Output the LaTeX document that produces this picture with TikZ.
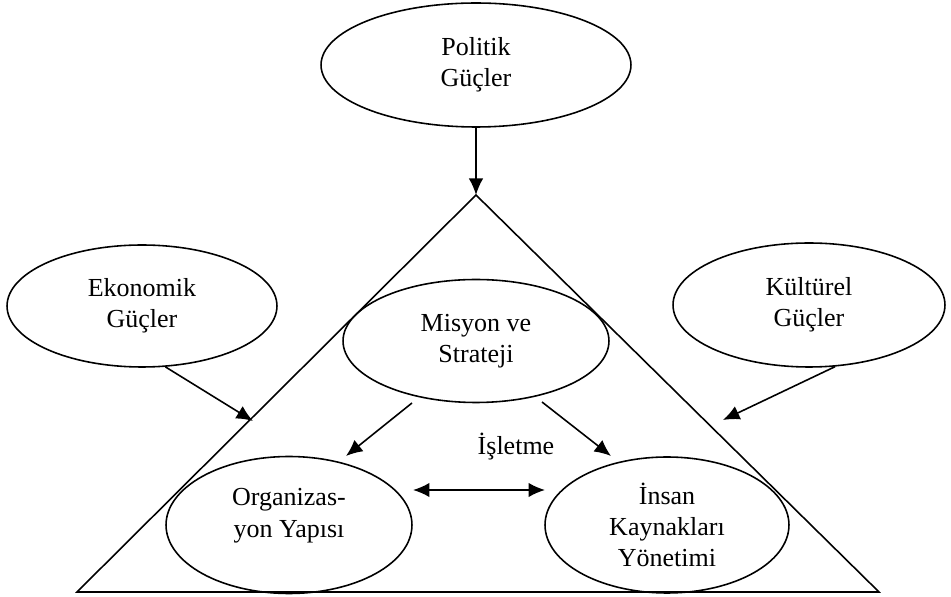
\documentclass[tikz,border=0pt]{standalone}
\usepackage{fontspec}
\setmainfont{Liberation Serif}
\usetikzlibrary{shapes.geometric}
\usetikzlibrary{arrows.meta}
\tikzstyle{force}=[draw, ellipse, line width=0.9pt, inner sep=0pt, align=center, font=\fontsize{14.8}{17.8}\selectfont]
\tikzstyle{plain label}=[inner sep=0pt, font=\fontsize{14.8}{17.8}\selectfont]
\tikzstyle{influence}=[line width=0.9pt, -{Latex[length=3.3mm, width=2.9mm]}]
\tikzstyle{mutual}=[line width=0.9pt, {Latex[length=3.3mm, width=2.9mm]}-{Latex[length=3.3mm, width=2.9mm]}]
\tikzstyle{frame}=[line width=0.9pt, line join=miter]

\begin{document}
\begin{tikzpicture}[x=0.02cm, y=-0.02cm]
  \useasboundingbox (0, 0) rectangle (951, 597);
  % the firm
  \coordinate (apex) at (476, 195);
  \coordinate (base left) at (77, 592);
  \coordinate (base right) at (879, 592);
  \draw[frame] (apex) -- (base left) -- (base right) -- cycle;
  % outside forces
  \node[force, minimum width=6.2cm, minimum height=2.48cm] (politik) at (476, 65) {Politik\\Güçler};
  \node[force, minimum width=5.4cm, minimum height=2.44cm] (ekonomik) at (142, 306) {Ekonomik\\Güçler};
  \node[force, minimum width=5.44cm, minimum height=2.48cm] (kulturel) at (809, 305) {Kültürel\\Güçler};
  % inside the firm
  \node[force, minimum width=5.32cm, minimum height=2.46cm] (misyon) at (476, 341) {Misyon ve\\Strateji};
  \node[force, minimum width=4.92cm, minimum height=2.74cm] (orgyapi) at (289, 525) {Organizas-\\yon Yapısı\\[-4pt]\mbox{}};
  \node[force, minimum width=4.88cm, minimum height=2.72cm] (ikyonetim) at (667, 525) {İnsan\\Kaynakları\\Yönetimi};
  \node[plain label] (isletme) at (516, 447) {İşletme};
  % arrow ends
  \coordinate (eko tip) at (253, 421);
  \coordinate (kul tip) at (723, 420);
  \coordinate (mis left) at (412, 403);
  \coordinate (org tip) at (346, 456);
  \coordinate (mis right) at (542, 402);
  \coordinate (ik tip) at (611, 456);
  \coordinate (org side) at (413, 490);
  \coordinate (ik side) at (545, 490);
  \draw[influence] (politik.south) -- (apex);
  \draw[influence] (ekonomik.-69) -- (eko tip);
  \draw[influence] (kulturel.-67) -- (kul tip);
  \draw[influence] (mis left) -- (org tip);
  \draw[influence] (mis right) -- (ik tip);
  \draw[mutual] (org side) -- (ik side);
\end{tikzpicture}
\end{document}
